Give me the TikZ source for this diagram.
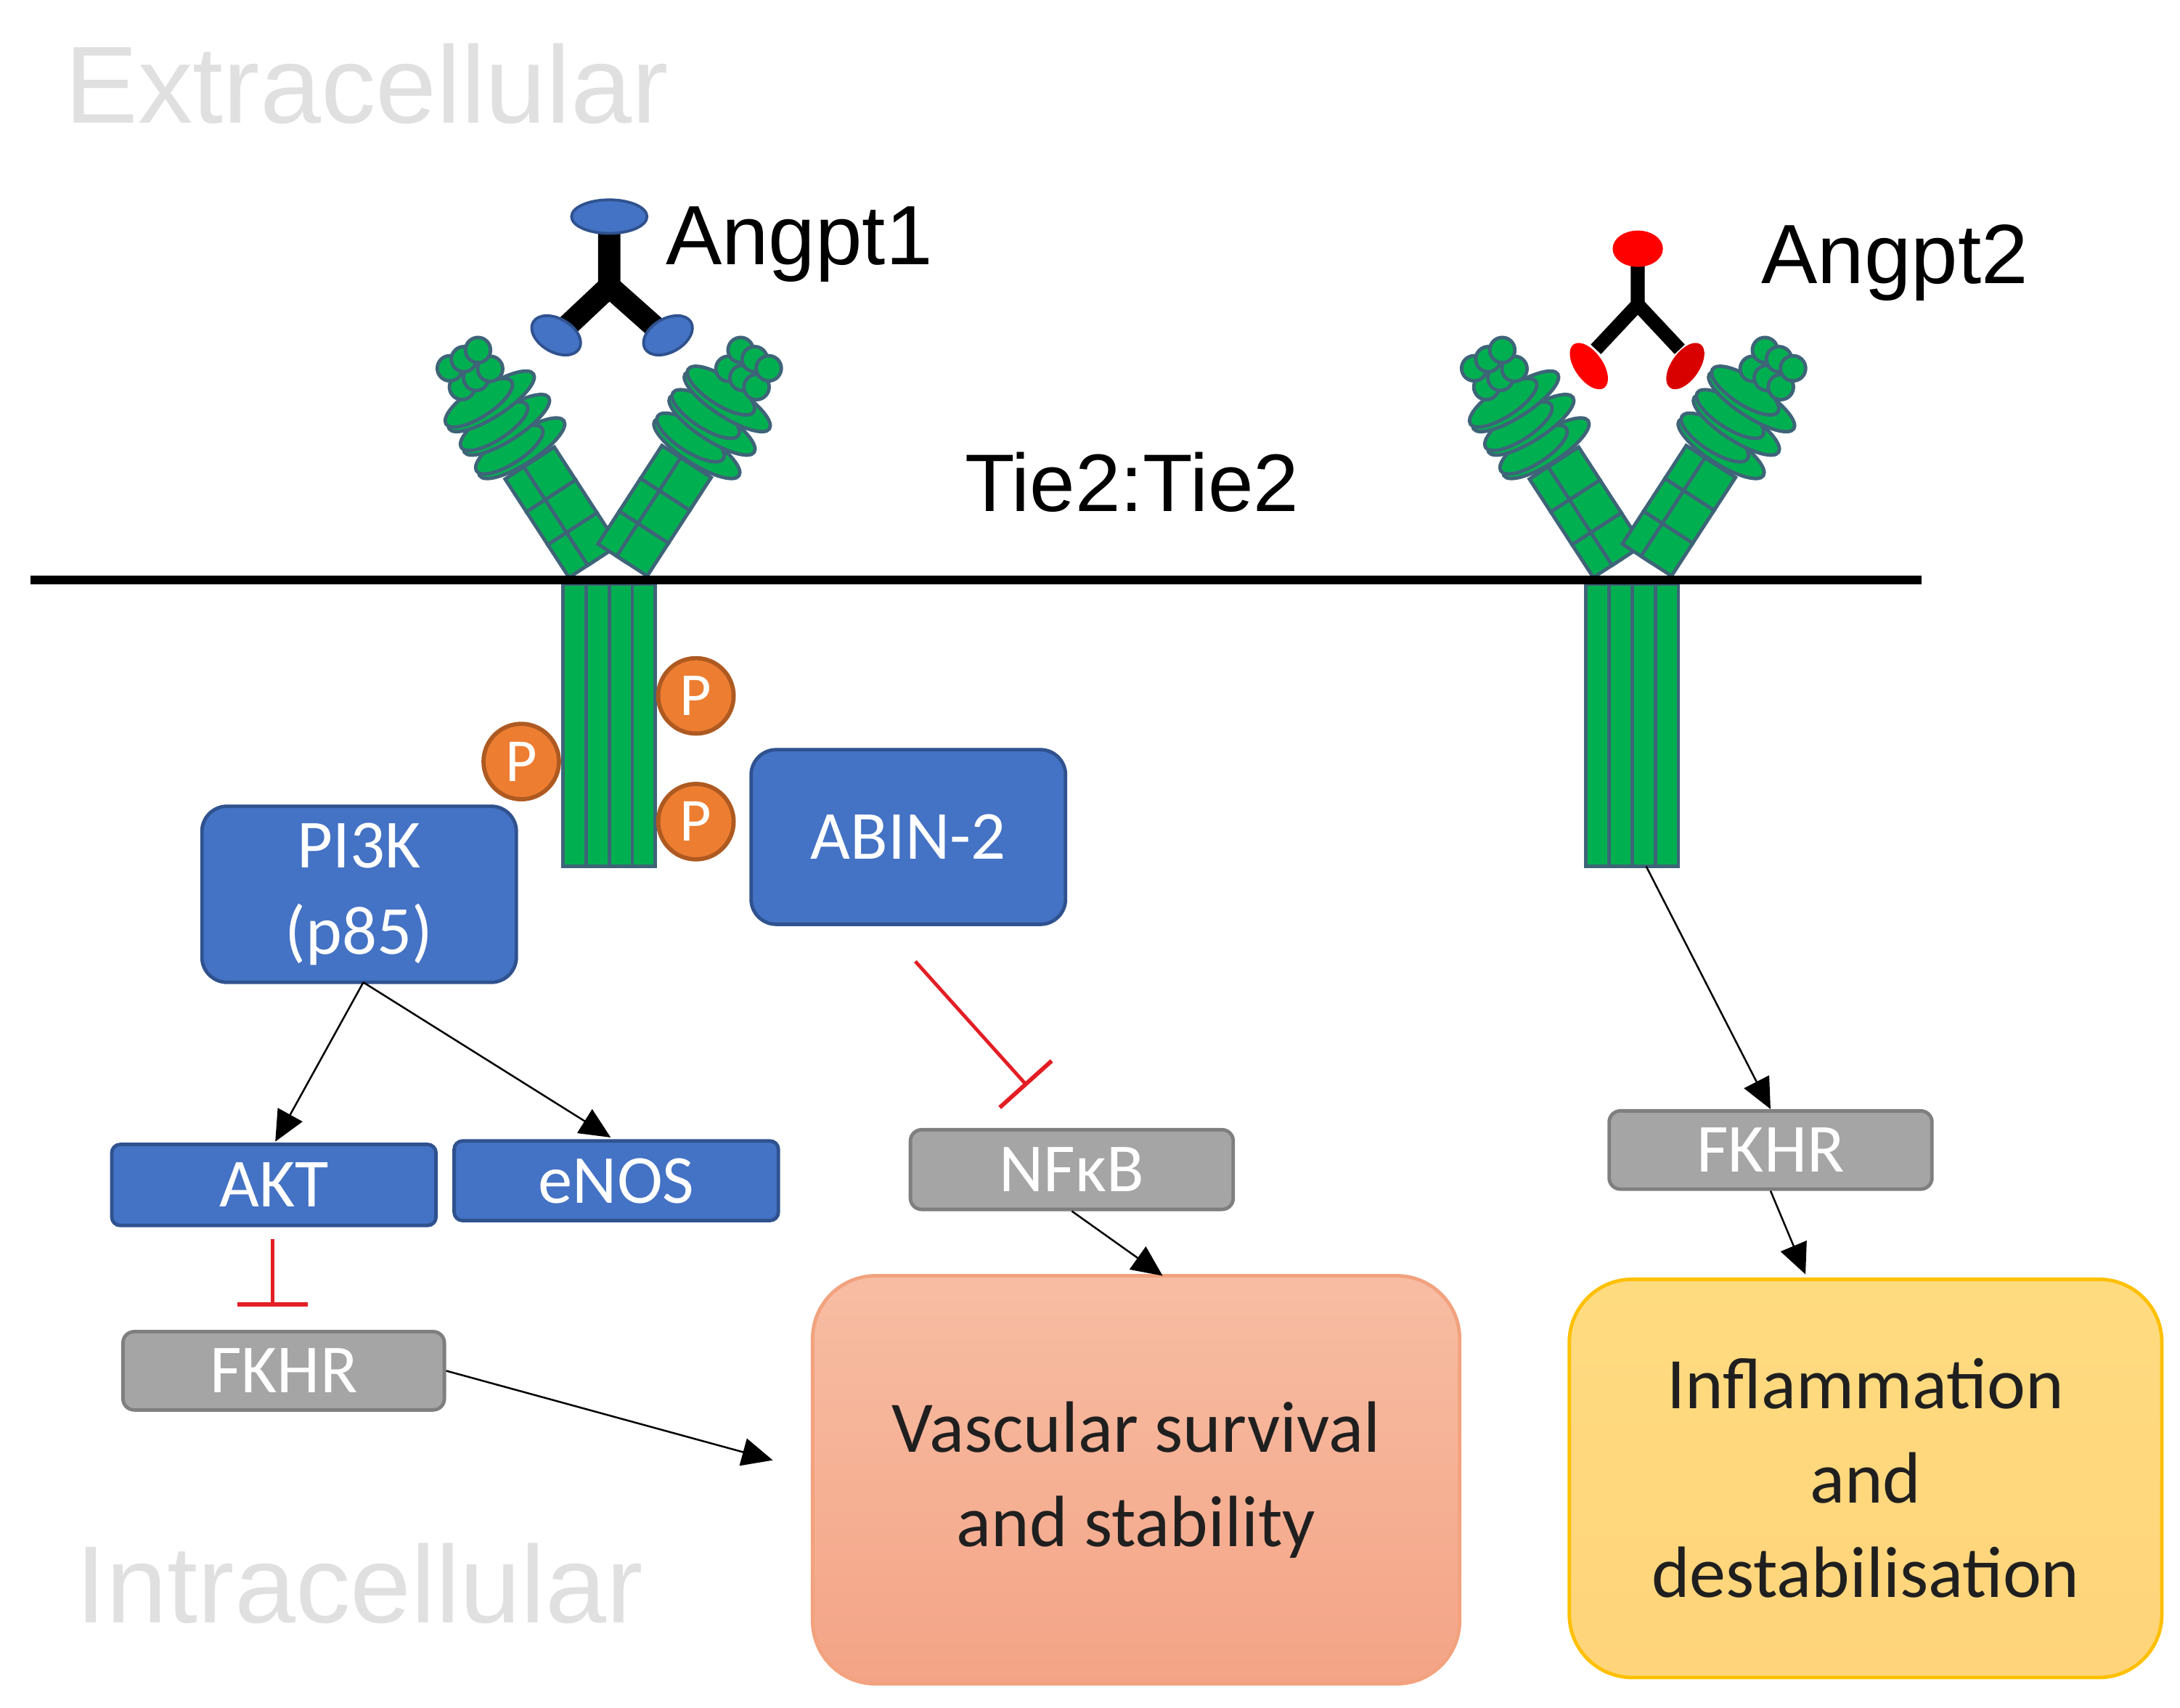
\documentclass[tikz,border=0pt]{standalone}
\usepackage{fontspec}
\setmainfont{Carlito}
\newfontfamily\arial{Liberation Sans}
\usetikzlibrary{arrows.meta,shapes.geometric}
\def\uu{0.01925cm}
\definecolor{gfill}{HTML}{00B050}
\definecolor{gline}{HTML}{3E6478}
\definecolor{bfill}{HTML}{4472C4}
\definecolor{bline}{HTML}{2F528F}
\definecolor{grfill}{HTML}{A5A5A5}
\definecolor{grline}{HTML}{7F7F7F}
\definecolor{pfill}{HTML}{ED7D31}
\definecolor{pline}{HTML}{AE5A21}
\definecolor{ired}{HTML}{E31E24}
\definecolor{vtop}{HTML}{F7BDA3}
\definecolor{vbot}{HTML}{F4A486}
\definecolor{vline}{HTML}{F2A27E}
\definecolor{itopc}{HTML}{FFDB80}
\definecolor{ibot}{HTML}{FFD47A}
\definecolor{iline}{HTML}{FFC000}
\tikzset{
 blue box/.style={draw=bline,line width=2.5*\uu,fill=bfill,rounded corners=18*\uu,text=white,font=\fontsize{27}{34}\selectfont,align=center,inner sep=0},
 gray box/.style={draw=grline,line width=2.5*\uu,fill=grfill,rounded corners=8*\uu,text=white,font=\fontsize{27}{30}\selectfont,inner sep=0},
 pcirc/.style={circle,draw=pline,line width=3*\uu,fill=pfill,minimum size=54*\uu,inner sep=0,text=white,font=\fontsize{24}{24}\selectfont},
 act/.style={-{Triangle[length=22*\uu,width=20*\uu]},line width=1.3*\uu,black},
 inh/.style={-{Bar[width=50*\uu,line width=3*\uu]},line width=2.5*\uu,ired},
 seg/.style={draw=gline,line width=2.5*\uu,fill=gfill},
}
\newcommand\recarm[2]{% base point, rotation
 \begin{scope}[shift={#1},rotate=#2]
  \foreach \d in {8,36,64}{
   \path[seg] (-22,-\d) rectangle (2,-\d-28);
   \path[seg] (-6,-\d) rectangle (20,-\d-28);}
  \foreach \d in {104,124,144}{
   \path[seg] (0,-\d) ellipse [x radius=36,y radius=11];
   \path[seg] (-8,-\d-4) ellipse [x radius=28,y radius=10];}
  \foreach \d in {164,180}{
   \foreach \xx in {-12,0,12}{\path[seg] (\xx,-\d) circle [radius=9];}}
 \end{scope}}
\newcommand\stem[1]{% left x
 \foreach \k in {0,1,2,3}{\path[seg] (#1+\k*16.5,418) rectangle ++(16.5,202);}}
\begin{document}
\begin{tikzpicture}[x=\uu,y=-\uu]
\useasboundingbox (0,0) rectangle (1560,1222);
% labels
\node[font=\arial\fontsize{43}{50}\selectfont,text=black!12,anchor=west] (ext) at (40,60) {Extracellular};
\node[font=\arial\fontsize{43}{50}\selectfont,text=black!12,anchor=west] (int) at (48,1133) {Intracellular};
% receptors
\recarm{(430,408)}{33}
\recarm{(442,408)}{-33}
\recarm{(1163,408)}{33}
\recarm{(1175,408)}{-33}
\stem{403}
\stem{1135}
% membrane
\draw[line width=6*\uu] (22,415) -- (1375,415);
% Angpt1
\draw[line width=16*\uu] (436,160) -- (436,205) -- (402,237);
\draw[line width=16*\uu] (436,205) -- (472,237);
\fill[bfill,draw=bline,line width=2*\uu] (436,155) ellipse [x radius=27,y radius=12];
\fill[bfill,draw=bline,line width=2*\uu,rotate around={-30:(398,240)}] (398,240) ellipse [x radius=19,y radius=12];
\fill[bfill,draw=bline,line width=2*\uu,rotate around={30:(478,240)}] (478,240) ellipse [x radius=19,y radius=12];
\node[font=\arial\fontsize{33}{40}\selectfont,anchor=west] (a1) at (470,175) {Angpt1};
% Angpt2
\draw[line width=10*\uu] (1172,180) -- (1172,218) -- (1142,250);
\draw[line width=10*\uu] (1172,218) -- (1202,250);
\fill[red] (1172,178) ellipse [x radius=18,y radius=13];
\fill[red,rotate around={-55:(1137,262)}] (1137,262) ellipse [x radius=19,y radius=10];
\fill[red!85!black,rotate around={55:(1206,262)}] (1206,262) ellipse [x radius=19,y radius=10];
\node[font=\arial\fontsize{33}{40}\selectfont,anchor=west] (a2) at (1254,188) {Angpt2};
\node[font=\arial\fontsize{32}{40}\selectfont] (tie) at (810,345) {Tie2:Tie2};
% P
\node[pcirc] (p1) at (498,498) {P};
\node[pcirc] (p2) at (373,545) {P};
\node[pcirc] (p3) at (498,588) {P};
% boxes
\node[blue box,minimum width=225*\uu,minimum height=126*\uu] (pik) at (257,640) {PI3K\\(p85)};
\node[blue box,minimum width=225*\uu,minimum height=125*\uu] (abin) at (650,599) {ABIN-2};
\node[blue box,rounded corners=6*\uu,minimum width=232*\uu,minimum height=58*\uu] (akt) at (196,848) {AKT};
\node[blue box,rounded corners=6*\uu,minimum width=232*\uu,minimum height=57*\uu] (enos) at (441,845) {eNOS};
\node[gray box,minimum width=230*\uu,minimum height=56*\uu] (fk1) at (203,981) {FKHR};
\node[gray box,minimum width=231*\uu,minimum height=57*\uu] (nfkb) at (767,837) {NFκB};
\node[gray box,minimum width=231*\uu,minimum height=56*\uu] (fk2) at (1267,823) {FKHR};
\node[draw=vline,line width=2.5*\uu,rounded corners=45*\uu,top color=vtop,bottom color=vbot,minimum width=463*\uu,minimum height=292*\uu,align=center,font=\fontsize{28.5}{37}\selectfont,text=black!88] (vas) at (813,1059) {Vascular survival\\and stability};
\node[draw=iline,line width=2.5*\uu,rounded corners=45*\uu,top color=itopc,bottom color=ibot,minimum width=424*\uu,minimum height=285*\uu,align=center,font=\fontsize{28.5}{37}\selectfont,text=black!88] (inf) at (1335,1058) {Inflammation\\and\\destabilisation};
% connectors
\coordinate (pikb) at (260,703);
\coordinate (rs) at (1178,620);
\coordinate (vtip) at (553,1045);
\coordinate (vtopc) at (832,913);
\coordinate (itop) at (1292,912);
\coordinate (i1a) at (195,887);
\coordinate (i1b) at (195,935);
\coordinate (i2a) at (655,688);
\coordinate (i2b) at (735,777);
\draw[act] (pikb) -- (197,817);
\draw[act] (pikb) -- (437,814);
\draw[act] (fk1.east) -- (vtip);
\draw[act] (nfkb.south) -- (vtopc);
\draw[act] (rs) -- (fk2.north);
\draw[act] (fk2.south) -- (itop);
\draw[inh] (i1a) -- (i1b);
\draw[inh] (i2a) -- (i2b);
\end{tikzpicture}
\end{document}
